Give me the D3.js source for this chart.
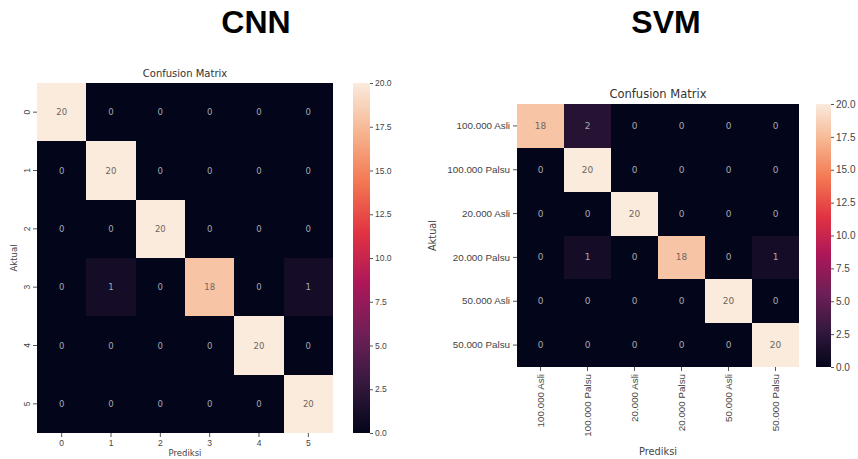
<!DOCTYPE html>
<html><head><meta charset="utf-8">
<script src="https://cdn.jsdelivr.net/npm/d3@7"></script>
<style>
html,body{margin:0;padding:0;background:#fff;}
svg{display:block;font-family:"DejaVu Sans",sans-serif;}
.axis path{display:none;}
.axis line{stroke:#555;}
.axis text{fill:#444;}
</style></head>
<body>
<svg id="chart" width="858" height="459"></svg>
<script>
// ---- data ----
const cnnLabels = ["0", "1", "2", "3", "4", "5"];
const cnnMatrix = [
  [20, 0, 0, 0, 0, 0],
  [0, 20, 0, 0, 0, 0],
  [0, 0, 20, 0, 0, 0],
  [0, 1, 0, 18, 0, 1],
  [0, 0, 0, 0, 20, 0],
  [0, 0, 0, 0, 0, 20]
];
const svmLabels = ["100.000 Asli", "100.000 Palsu", "20.000 Asli", "20.000 Palsu", "50.000 Asli", "50.000 Palsu"];
const svmMatrix = [
  [18, 2, 0, 0, 0, 0],
  [0, 20, 0, 0, 0, 0],
  [0, 0, 20, 0, 0, 0],
  [0, 1, 0, 18, 0, 1],
  [0, 0, 0, 0, 20, 0],
  [0, 0, 0, 0, 0, 20]
];
const colorbarTicks = [0, 2.5, 5, 7.5, 10, 12.5, 15, 17.5, 20];
const panelTitles = ["CNN", "SVM"];
const chartTitle = "Confusion Matrix";
const xTitle = "Prediksi";
const yTitle = "Aktual";

// rocket colormap stops
const rocketStops = [
  [0.0, "#03051a"], [1/7, "#35193e"], [2/7, "#701f57"], [3/7, "#ad1759"],
  [4/7, "#e13342"], [5/7, "#f37651"], [6/7, "#f6b48f"], [1.0, "#faebdd"]
];
const color = d3.scaleLinear()
  .domain(rocketStops.map(d => d[0] * 20))
  .range(rocketStops.map(d => d[1]))
  .interpolate(d3.interpolateRgb);

const svg = d3.select("#chart");
const defs = svg.append("defs");
const grad = defs.append("linearGradient").attr("id", "rocket")
  .attr("x1", 0).attr("y1", 1).attr("x2", 0).attr("y2", 0);
rocketStops.forEach(s => grad.append("stop").attr("offset", s[0]).attr("stop-color", s[1]));

function heatmap(cfg) {
  const g = svg.append("g");
  const x = d3.scaleBand().domain(d3.range(cfg.labels.length)).range([cfg.x0, cfg.x1]).padding(0);
  const y = d3.scaleBand().domain(d3.range(cfg.labels.length)).range([cfg.y0, cfg.y1]).padding(0);
  const cells = [];
  cfg.matrix.forEach((row, i) => row.forEach((v, j) => cells.push({i, j, v})));
  g.append("rect").attr("x", cfg.x0).attr("y", cfg.y0)
    .attr("width", cfg.x1 - cfg.x0).attr("height", cfg.y1 - cfg.y0)
    .attr("fill", color(0)).attr("shape-rendering", "crispEdges");
  g.selectAll("rect.cell").data(cells).join("rect")
    .attr("class", "cell")
    .attr("shape-rendering", "crispEdges")
    .attr("x", d => Math.round(x(d.j))).attr("y", d => Math.round(y(d.i)))
    .attr("width", d => Math.round(x(d.j) + x.bandwidth()) - Math.round(x(d.j)))
    .attr("height", d => Math.round(y(d.i) + y.bandwidth()) - Math.round(y(d.i)))
    .attr("fill", d => color(d.v));
  g.selectAll("text.ann").data(cells).join("text")
    .attr("x", d => x(d.j) + x.bandwidth() / 2)
    .attr("y", d => y(d.i) + y.bandwidth() / 2)
    .attr("text-anchor", "middle").attr("dominant-baseline", "central")
    .attr("font-size", cfg.annSize)
    .attr("fill", d => d.v > 10 ? "#6e6560" : "#a8a8b0")
    .text(d => d.v);

  // axes
  const xa = g.append("g").attr("class", "axis")
    .attr("transform", `translate(0,${cfg.y1})`)
    .call(d3.axisBottom(x).tickSize(4).tickPadding(3).tickFormat(i => cfg.labels[i]));
  xa.selectAll("text").attr("font-size", cfg.tickSize);
  const ya = g.append("g").attr("class", "axis")
    .attr("transform", `translate(${cfg.x0},0)`)
    .call(d3.axisLeft(y).tickSize(4).tickPadding(3).tickFormat(i => cfg.labels[i]));
  ya.selectAll("text").attr("font-size", cfg.tickSize);
  if (cfg.rotateY) {
    ya.selectAll(".tick text")
      .attr("x", 0).attr("y", 0).attr("dy", null)
      .attr("text-anchor", "middle").attr("dominant-baseline", "central")
      .attr("transform", "translate(-10,0) rotate(-90)");
  }
  if (cfg.rotateX) {
    xa.selectAll("text").attr("transform", "rotate(-90)")
      .attr("text-anchor", "end").attr("x", -7).attr("y", 0).attr("dy", "0.35em");
  }

  // titles
  g.append("text").attr("x", (cfg.x0 + cfg.x1) / 2).attr("y", cfg.y0 - 6)
    .attr("text-anchor", "middle").attr("font-size", cfg.titleSize).attr("fill", "#333")
    .text(chartTitle);
  g.append("text").attr("x", (cfg.x0 + cfg.x1) / 2).attr("y", cfg.xTitleY)
    .attr("text-anchor", "middle").attr("font-size", cfg.tickSize).attr("fill", "#444")
    .text(xTitle);
  g.append("text").attr("transform", `translate(${cfg.yTitleX},${(cfg.y0 + cfg.y1) / 2}) rotate(-90)`)
    .attr("text-anchor", "middle").attr("font-size", cfg.tickSize).attr("fill", "#444")
    .text(yTitle);

  // colorbar
  g.append("rect").attr("x", cfg.cbX).attr("y", cfg.y0)
    .attr("width", cfg.cbW).attr("height", cfg.y1 - cfg.y0).attr("fill", "url(#rocket)");
  const cs = d3.scaleLinear().domain([0, 20]).range([cfg.y1, cfg.y0]);
  const ca = g.append("g").attr("class", "axis")
    .attr("transform", `translate(${cfg.cbX + cfg.cbW},0)`)
    .call(d3.axisRight(cs).tickValues(colorbarTicks).tickSize(3).tickPadding(2).tickFormat(d3.format(".1f")));
  ca.selectAll("text").attr("font-size", cfg.cbSize);

  // big panel title
  svg.append("text").attr("x", cfg.panelX).attr("y", 33)
    .attr("text-anchor", "middle").attr("font-family", "Liberation Sans, Arial, sans-serif")
    .attr("font-weight", "bold").attr("font-size", 32).attr("fill", "#000")
    .text(cfg.panelTitle);
}

heatmap({
  labels: cnnLabels, matrix: cnnMatrix,
  x0: 37, x1: 333, y0: 83, y1: 433,
  annSize: 8.5, tickSize: 8.5, titleSize: 10, cbSize: 8.5,
  rotateY: true, rotateX: false,
  xTitleY: 456, yTitleX: 17,
  cbX: 353, cbW: 17,
  panelX: 256, panelTitle: panelTitles[0]
});
heatmap({
  labels: svmLabels, matrix: svmMatrix,
  x0: 517, x1: 799, y0: 104, y1: 367,
  annSize: 9, tickSize: 9.8, titleSize: 11.5, cbSize: 10,
  rotateY: false, rotateX: true,
  xTitleY: 455, yTitleX: 436,
  cbX: 816, cbW: 15,
  panelX: 666, panelTitle: panelTitles[1]
});
</script>
</body></html>
